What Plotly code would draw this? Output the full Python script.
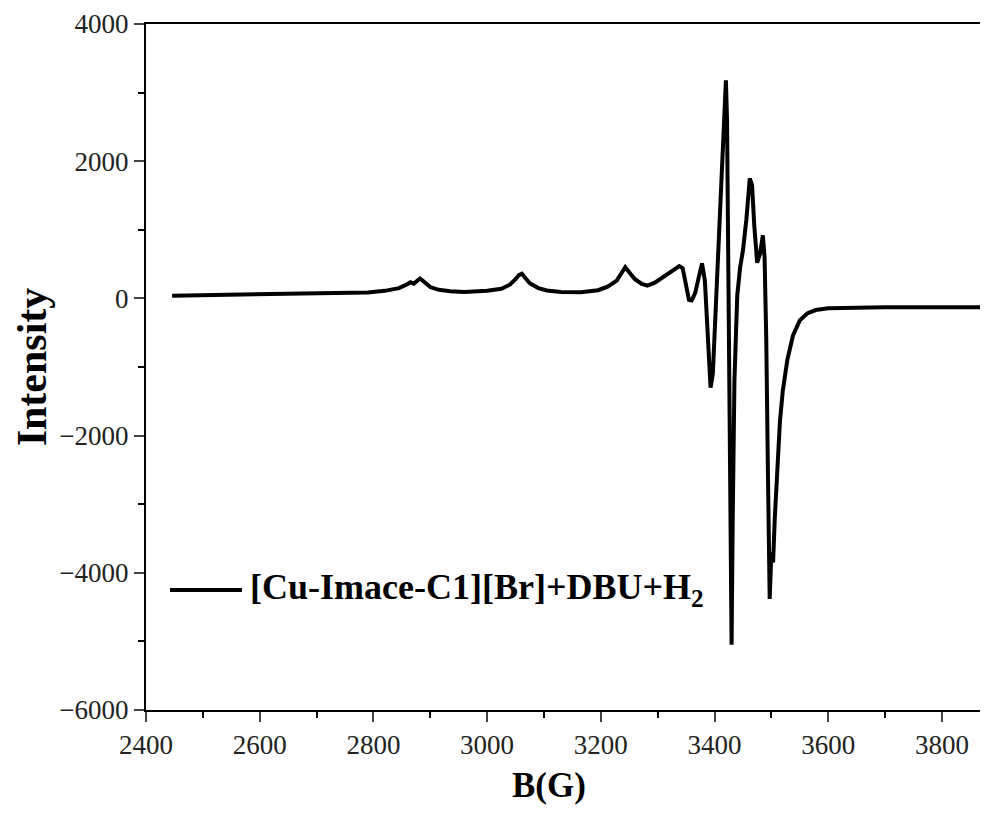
import plotly.graph_objects as go

# EPR spectrum, values
b_field = [2446, 2500, 2550, 2600, 2650, 2700, 2750, 2790, 2820, 2845, 2858, 2865, 2871, 2877,
           2882, 2888, 2900, 2915, 2935, 2960, 3000, 3025, 3040, 3050, 3056, 3061, 3066, 3075,
           3090, 3105, 3130, 3165, 3195, 3212, 3228, 3237, 3243, 3250, 3260, 3272, 3282, 3295,
           3310, 3325, 3338, 3344, 3350, 3355, 3360, 3366, 3372, 3378, 3383, 3387, 3390, 3393,
           3397, 3402, 3408, 3413, 3417, 3420, 3422, 3424, 3426, 3428, 3430, 3432, 3435, 3440,
           3445, 3450, 3456, 3462, 3466, 3470, 3475, 3480, 3485, 3488, 3491, 3494, 3497, 3500,
           3503, 3506, 3510, 3515, 3520, 3528, 3538, 3550, 3563, 3578, 3600, 3650, 3700, 3750,
           3800, 3850, 3881]
intensity = [40, 45, 50, 55, 60, 65, 75, 85, 110, 150, 200, 235, 215, 250,
             290, 250, 165, 125, 105, 95, 110, 140, 200, 280, 340, 360, 310, 220,
             150, 115, 95, 90, 120, 170, 260, 380, 455, 380, 280, 210, 185, 230,
             310, 400, 470, 440, 220, -20, -30, 80, 300, 510, 260, -300, -900, -1300,
             -1100, -200, 900, 2000, 2700, 3180, 2600, 800, -1600, -4000, -5050, -3200, -1200, 50,
             450, 700, 1150, 1750, 1650, 1050, 520, 650, 920, 600, -600, -2600, -4380, -3700,
             -3850, -3200, -2450, -1800, -1350, -900, -540, -320, -220, -170, -145, -135, -130, -130,
             -130, -130, -130]

x_ticks = [2400, 2600, 2800, 3000, 3200, 3400, 3600, 3800]
y_ticks = [-6000, -4000, -2000, 0, 2000, 4000]
legend_name = "[Cu-Imace-C1][Br]+DBU+H<sub>2</sub>"

serif = "Liberation Serif, Times New Roman, serif"

fig = go.Figure()
fig.add_trace(go.Scatter(x=b_field, y=intensity, mode="lines",
                         line=dict(color="black", width=4), showlegend=False))

# hand drawn legend, the line sample is longer than plotly's own
fig.add_shape(type="line", xref="paper", yref="paper", x0=0.0285, x1=0.114, y0=0.175, y1=0.175,
              line=dict(color="black", width=4))
fig.add_annotation(text=legend_name, xref="paper", yref="paper", x=0.121, y=0.175,
                   xanchor="left", yanchor="middle", showarrow=False,
                   font=dict(family=serif, size=36, color="black", weight="bold"))
# x title sits a bit left of the centre in the original
fig.add_annotation(text="B(G)", xref="paper", yref="paper", x=0.479, y=0, yshift=-75,
                   xanchor="center", yanchor="middle", showarrow=False,
                   font=dict(family=serif, size=35, color="black", weight="bold"))

fig.update_xaxes(range=[2400, 3881], tickvals=x_ticks, ticks="outside", ticklen=10, tickwidth=2,
                 minor=dict(dtick=100, ticks="outside", ticklen=6, tickwidth=2, tickcolor="black"),
                 showline=True, linewidth=2, linecolor="black", mirror=True, showgrid=False,
                 zeroline=False, tickfont=dict(family=serif, size=27, color="#222"))
fig.update_yaxes(range=[-6000, 4000], tickvals=y_ticks, ticks="outside", ticklen=10, tickwidth=2,
                 minor=dict(dtick=1000, ticks="outside", ticklen=6, tickwidth=2, tickcolor="black"),
                 showline=True, linewidth=2, linecolor="black", showgrid=False, zeroline=False,
                 tickformat="d", tickfont=dict(family=serif, size=27, color="#222"),
                 title=dict(text="Intensity", font=dict(family=serif, size=42, color="black", weight="bold"),
                            standoff=0))
# page body adds 8px, so the figure is 8px smaller than the window
fig.update_layout(width=980, height=806, margin=dict(l=138, r=0, t=16, b=104),
                  plot_bgcolor="white", paper_bgcolor="white")

fig.write_html("out.html")
